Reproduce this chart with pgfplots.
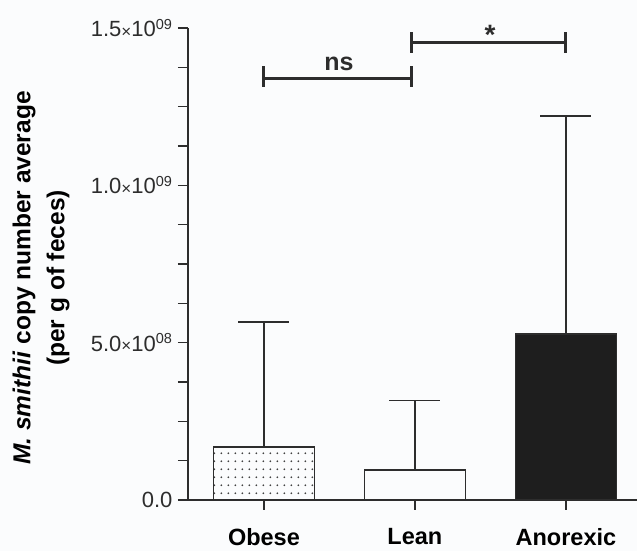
\documentclass[border=0pt]{standalone}
\usepackage{pgfplots}
\pgfplotsset{compat=1.18}
\usepackage{fontspec}
\setmainfont{Liberation Sans}
\usetikzlibrary{patterns.meta}
\definecolor{ink}{RGB}{45,45,45}
\definecolor{bg}{RGB}{251,252,253}
\definecolor{barblack}{RGB}{30,30,30}
\pgfdeclarepattern{name=sparsedots, type=uncolored,
  bottom left={\pgfpoint{0pt}{0pt}}, top right={\pgfpoint{7.3pt}{7.7pt}},
  tile size={\pgfpoint{7.3pt}{7.7pt}},
  code={\pgfpathcircle{\pgfpoint{3.65pt}{3.85pt}}{1.0pt}\pgfusepath{fill}}}
\newcommand{\tl}[2]{#1{\fontsize{17}{17}\selectfont\raisebox{-0.5pt}{×}}10\textsuperscript{\fontsize{14.5}{14.5}\selectfont #2}}
\begin{document}
\begin{tikzpicture}
\path[use as bounding box, fill=bg] (-188pt,-51pt) rectangle (449pt,500pt);
\begin{axis}[at={(0,0)}, anchor=south west, scale only axis,
  width=449pt, height=472pt,
  xmin=-0.503, xmax=2.471, ymin=0, ymax=1.5e9,
  scaled y ticks=false,
  axis x line*=bottom, axis y line*=left,
  axis line style={ink, line width=1.6pt, -},
  xtick={0,1,2}, xticklabels={Obese,Lean,Anorexic},
  ytick={0,5e8,1e9,1.5e9},
  yticklabels={0.0,\tl{5.0}{08},\tl{1.0}{09},\tl{1.5}{09}},
  minor y tick num=3,
  tick style={ink, line width=1.6pt},
  major tick length=10pt, minor tick length=10pt, tick align=outside,
  xticklabel style={font=\bfseries\fontsize{23.5}{23.5}\selectfont, text=black, yshift=-15pt},
  yticklabel style={font=\fontsize{22}{22}\selectfont, text=ink, xshift=-2pt},
  clip=false]
\addplot[ybar, bar width=101pt, bar shift=0pt, draw=ink, line width=1.6pt,
  pattern={sparsedots}, pattern color=ink!90]
  coordinates {(0,1.68e8)};
\addplot[ybar, bar width=101pt, bar shift=0pt, draw=ink, line width=1.6pt, fill=bg]
  coordinates {(1,0.95e8)};
\addplot[ybar, bar width=101pt, bar shift=0pt, draw=ink, line width=1.6pt, fill=barblack]
  coordinates {(2,5.27e8)};
% error bars (upper only)
\addplot[ink, line width=1.6pt, no marks] coordinates {(0,1.68e8) (0,5.65e8)};
\addplot[ink, line width=1.6pt, no marks] coordinates {(-0.169,5.65e8) (0.169,5.65e8)};
\addplot[ink, line width=1.6pt, no marks] coordinates {(1,0.95e8) (1,3.16e8)};
\addplot[ink, line width=1.6pt, no marks] coordinates {(0.831,3.16e8) (1.169,3.16e8)};
\addplot[ink, line width=1.6pt, no marks] coordinates {(2,5.27e8) (2,1.221e9)};
\addplot[ink, line width=1.6pt, no marks] coordinates {(1.831,1.221e9) (2.169,1.221e9)};
% significance brackets
\addplot[ink, line width=3pt, no marks] coordinates {(0,1.341e9) (0.98,1.341e9)};
\addplot[ink, line width=3pt, no marks] coordinates {(0,1.379e9) (0,1.312e9)};
\addplot[ink, line width=3pt, no marks] coordinates {(0.98,1.379e9) (0.98,1.312e9)};
\addplot[ink, line width=3pt, no marks] coordinates {(0.98,1.455e9) (2.0,1.455e9)};
\addplot[ink, line width=3pt, no marks] coordinates {(0.98,1.487e9) (0.98,1.42e9)};
\addplot[ink, line width=3pt, no marks] coordinates {(2.0,1.487e9) (2.0,1.42e9)};
\node[font=\bfseries\fontsize{25}{25}\selectfont, text=ink, anchor=base] at (axis cs:0.497,1.365e9) {ns};
\node[font=\bfseries\fontsize{28}{28}\selectfont, text=ink] at (axis cs:1.497,1.478e9) {*};
\end{axis}
\node[rotate=90, align=center, font=\bfseries\fontsize{24.5}{34}\selectfont, text=black] at (-147pt,222pt)
  {\textit{M. smithii} copy number average\\(per g of feces)};
\end{tikzpicture}
\end{document}
